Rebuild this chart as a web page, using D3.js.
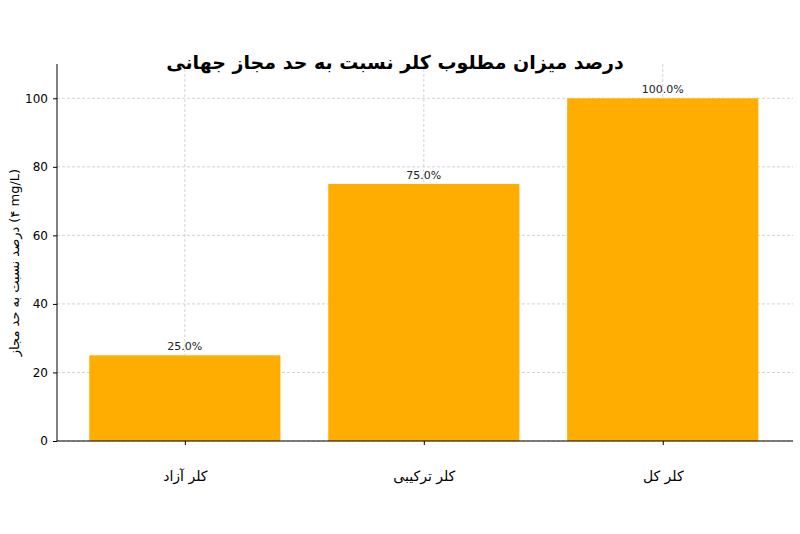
<!DOCTYPE html>
<html><head><meta charset="utf-8">
<script src="https://cdn.jsdelivr.net/npm/d3@7"></script>
<style>body{margin:0;background:#fff}</style></head>
<body><svg id="c" width="800" height="534"></svg>
<script>
const categories = ["کلر آزاد", "کلر ترکیبی", "کلر کل"];
const values = [25, 75, 100];
const yTicks = [0, 20, 40, 60, 80, 100];
const title = "درصد میزان مطلوب کلر نسبت به حد مجاز جهانی";
const yLabel = "درصد نسبت به حد مجاز (۴ mg/L)";

const svg = d3.select("#c");
const L = 57, R = 793, T = 64, B = 441;
const x = d3.scaleLinear().domain([-0.535, 2.545]).range([L, R]);
const y = d3.scaleLinear().domain([0, 110]).range([B, T]);
const font = "DejaVu Sans, sans-serif";

// grid
svg.append("g").selectAll("line").data(yTicks).join("line")
  .attr("x1", L).attr("x2", R).attr("y1", d => y(d)).attr("y2", d => y(d))
  .attr("stroke", "#c8c8c8").attr("stroke-dasharray", "3,2").attr("stroke-width", 0.8);
svg.append("g").selectAll("line").data(categories).join("line")
  .attr("x1", (d, i) => x(i)).attr("x2", (d, i) => x(i)).attr("y1", T).attr("y2", B)
  .attr("stroke", "#c8c8c8").attr("stroke-dasharray", "3,2").attr("stroke-width", 0.8);

// bars
const bw = x(0.4) - x(-0.4);
svg.append("g").selectAll("rect").data(values).join("rect")
  .attr("x", (d, i) => x(i) - bw / 2).attr("width", bw)
  .attr("y", d => y(d)).attr("height", d => B - y(d)).attr("fill", "#ffad00");
svg.append("g").selectAll("text").data(values).join("text")
  .attr("x", (d, i) => x(i)).attr("y", d => y(d) - 5).attr("text-anchor", "middle")
  .attr("font-family", font).attr("font-size", 11).attr("fill", "#222")
  .text(d => d.toFixed(1) + "%");

// axes
const ya = svg.append("g").attr("transform", `translate(${L},0)`)
  .call(d3.axisLeft(y).tickValues(yTicks).tickSize(4).tickPadding(5));
ya.select(".domain").attr("d", `M0,${T}V${B}`);
ya.selectAll("text").attr("font-family", font).attr("font-size", 12).attr("fill", "#000");
const xa = svg.append("g").attr("transform", `translate(0,${B})`)
  .call(d3.axisBottom(x).tickValues([0, 1, 2]).tickFormat(i => categories[i]).tickSize(4).tickPadding(26));
xa.select(".domain").attr("d", `M${L},0H${R}`);
xa.selectAll("text").attr("font-family", font).attr("font-size", 14).attr("fill", "#000");

svg.append("text").attr("x", 395).attr("y", 69).attr("text-anchor", "middle")
  .attr("font-family", font).attr("font-size", 19).attr("font-weight", "bold").text(title);
svg.append("text").attr("transform", `translate(19,${(T + B) / 2 + 10}) rotate(-90)`)
  .attr("text-anchor", "middle").attr("font-family", font).attr("font-size", 13).text(yLabel);
</script></body></html>
